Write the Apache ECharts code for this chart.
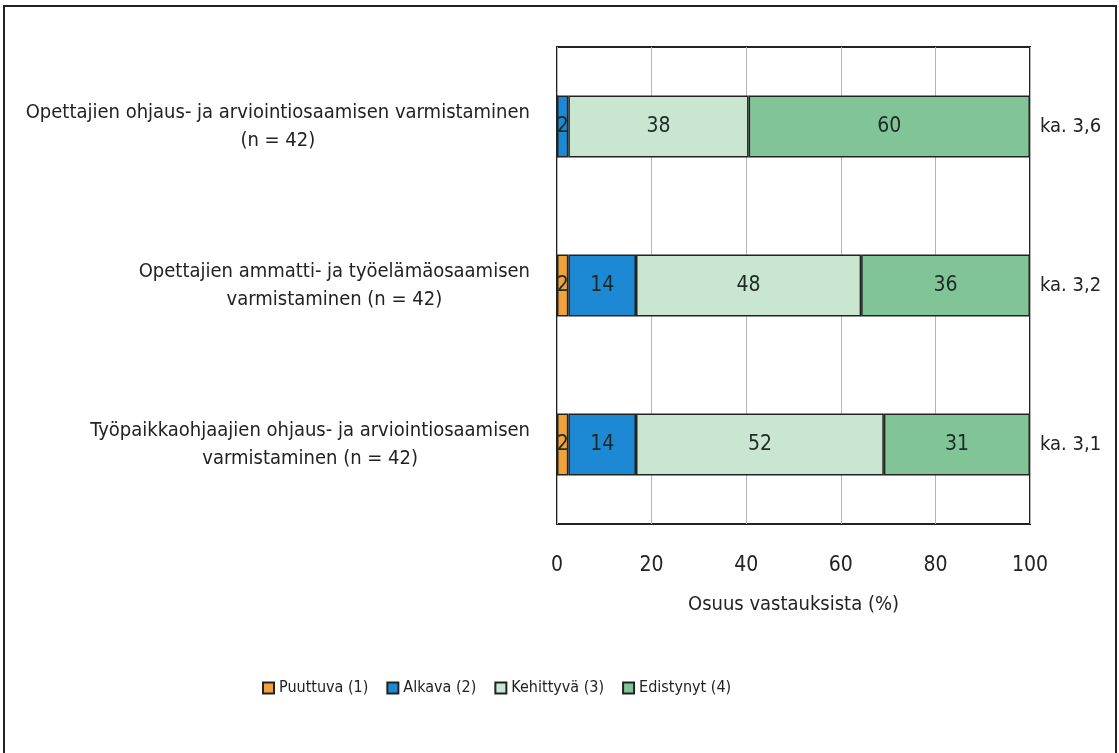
<!DOCTYPE html>
<html>
<head>
<meta charset="utf-8">
<script src="https://cdn.jsdelivr.net/npm/echarts@6/dist/echarts.min.js"></script>
<style>
  html, body { margin: 0; padding: 0; background: #fff; }
  #chart { width: 1119px; height: 753px; }
  .frame {
    position: absolute; left: 3px; top: 5px; width: 1114px; height: 760px;
    border: 2px solid #222; box-sizing: border-box; pointer-events: none;
  }
</style>
</head>
<body>
<div id="chart"></div>
<div class="frame"></div>
<script>
// kategoriat (ylhäältä alas)
const categories = [
  'Opettajien ohjaus- ja arviointiosaamisen varmistaminen\n(n = 42)',
  'Opettajien ammatti- ja työelämäosaamisen\nvarmistaminen (n = 42)',
  'Työpaikkaohjaajien ohjaus- ja arviointiosaamisen\nvarmistaminen (n = 42)'
]
const averages = ['ka. 3,6', 'ka. 3,2', 'ka. 3,1']
const seriesNames = ['Puuttuva (1)', 'Alkava (2)', 'Kehittyvä (3)', 'Edistynyt (4)']
// osuudet (%), näytetään pyöristettyinä
const puuttuva = [0, 2.4, 2.4]
const alkava = [2.4, 14.3, 14.3]
const kehittyva = [38.1, 47.6, 52.4]
const edistynyt = [59.5, 35.7, 30.9]
const xTicks = [0, 20, 40, 60, 80, 100]

const FONT = "'DejaVu Sans Condensed', 'Liberation Sans Narrow', sans-serif"
const colors = ['#F0A23E', '#1D88D4', '#C9E6D1', '#80C497']

const chart = echarts.init(document.getElementById('chart'))

const makeSeries = (name, data, color) => ({
  name: name,
  type: 'bar',
  stack: 'total',
  barCategoryGap: '61%',
  data: data,
  itemStyle: { color: color, borderColor: '#222', borderWidth: 1.5 },
  label: {
    show: true,
    position: 'inside',
    fontFamily: FONT,
    fontSize: 21,
    color: '#1e2a24',
    formatter: p => (p.value > 0 ? Math.round(p.value) : '')
  }
})

const option = {
  animation: false,
  textStyle: { fontFamily: FONT },
  legend: {
    bottom: 52,
    left: 257,
    icon: 'rect',
    itemWidth: 11,
    itemHeight: 11,
    itemGap: 18,
    textStyle: { fontFamily: FONT, fontSize: 16, color: '#222' },
    data: seriesNames
  },
  grid: {
    left: 557,
    right: 89,
    top: 47,
    bottom: 229,
    outerBoundsMode: 'none',
    containLabel: false,
    show: true,
    borderColor: '#222',
    borderWidth: 2,
    backgroundColor: 'transparent'
  },
  xAxis: {
    type: 'value',
    min: xTicks[0],
    max: xTicks[xTicks.length - 1],
    interval: 20,
    name: 'Osuus vastauksista (%)',
    nameLocation: 'middle',
    nameGap: 71,
    nameTextStyle: { fontFamily: FONT, fontSize: 20, color: '#222' },
    axisLine: { show: false },
    axisTick: { show: false },
    axisLabel: { margin: 31, fontFamily: FONT, fontSize: 21, color: '#222' },
    splitLine: { show: true, lineStyle: { color: '#b5b5b5', width: 1 } }
  },
  yAxis: [
    {
      type: 'category',
      inverse: true,
      data: categories,
      axisLine: { show: false },
      axisTick: { show: false },
      axisLabel: {
        margin: 27,
        align: 'right',
        lineHeight: 28,
        fontFamily: FONT,
        fontSize: 20,
        color: '#222',
        formatter: v => v.split('\n').map(s => '{c|' + s + '}').join('\n'),
        rich: { c: { align: 'center', fontFamily: FONT, fontSize: 20, lineHeight: 28, color: '#222' } }
      }
    },
    {
      type: 'category',
      inverse: true,
      position: 'right',
      data: averages,
      axisLine: { show: false },
      axisTick: { show: false },
      axisLabel: { margin: 10, fontFamily: FONT, fontSize: 20, color: '#222' }
    }
  ],
  series: [
    makeSeries(seriesNames[0], puuttuva, colors[0]),
    makeSeries(seriesNames[1], alkava, colors[1]),
    makeSeries(seriesNames[2], kehittyva, colors[2]),
    makeSeries(seriesNames[3], edistynyt, colors[3])
  ]
}

chart.setOption(option)
window.addEventListener('resize', chart.resize)
</script>
</body>
</html>
